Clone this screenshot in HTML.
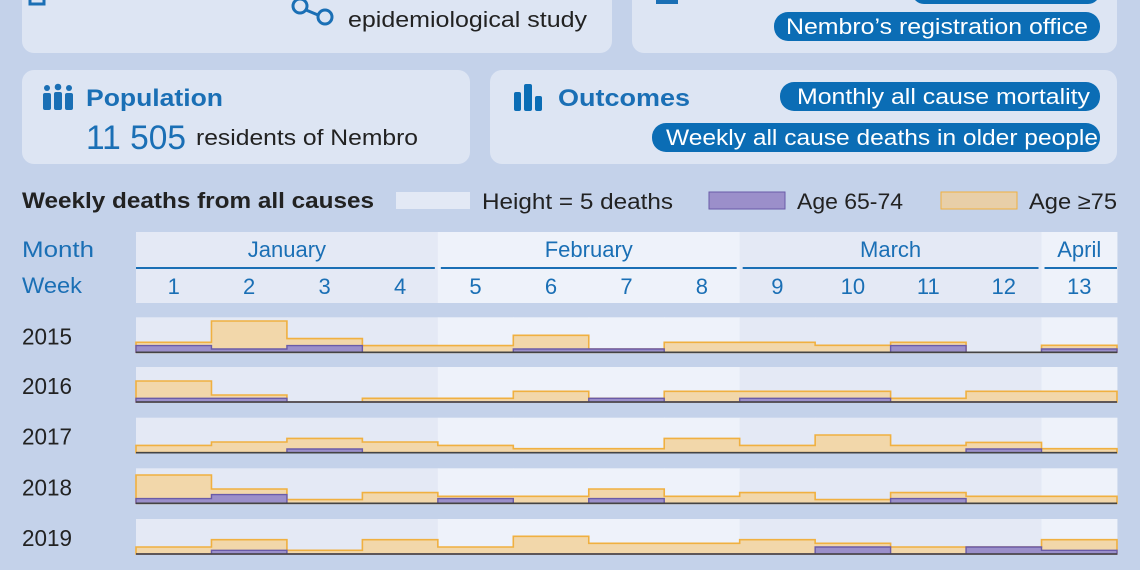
<!DOCTYPE html>
<html><head><meta charset="utf-8"><style>
html,body{margin:0;padding:0;background:#c4d2ea;}
svg{display:block;font-family:"Liberation Sans",sans-serif;}
</style></head><body>
<svg id="s" width="1140" height="570" viewBox="0 0 1140 570" xmlns="http://www.w3.org/2000/svg">
<rect width="1140" height="570" fill="#c4d2ea"/>
<rect x="22" y="-20" width="590" height="73" rx="12" fill="#dde5f3"/>
<rect x="632" y="-20" width="485" height="73" rx="12" fill="#dde5f3"/>
<rect x="30" y="-10" width="14" height="14" fill="none" stroke="#1a6fb5" stroke-width="3"/>
<g fill="none" stroke="#1a6fb5" stroke-width="3"><circle cx="300" cy="6" r="7"/><circle cx="325" cy="17" r="7"/><line x1="306" y1="10" x2="318" y2="15"/></g>
<text x="348" y="27" font-size="22" fill="#222" textLength="239" lengthAdjust="spacingAndGlyphs">epidemiological study</text>
<rect x="656" y="-10" width="22" height="14" fill="#1a6fb5"/>
<rect x="912" y="-20" width="188" height="24" rx="12" fill="#0b6db5"/>
<rect x="774" y="12" width="326" height="29" rx="14" fill="#0b6db5"/>
<text x="786" y="34" font-size="22" fill="#fff" textLength="302" lengthAdjust="spacingAndGlyphs">Nembro’s registration office</text>
<rect x="22" y="70" width="448" height="94" rx="12" fill="#dde5f3"/>
<rect x="490" y="70" width="627" height="94" rx="12" fill="#dde5f3"/>
<g fill="#1a6fb5"><circle cx="47" cy="88" r="3"/><circle cx="58" cy="87" r="3.3"/><circle cx="69" cy="88" r="3"/>
<rect x="43" y="93" width="8" height="17" rx="2"/><rect x="54" y="92" width="8" height="18" rx="2"/><rect x="65" y="93" width="8" height="17" rx="2"/></g>
<text x="86" y="106" font-size="24" font-weight="bold" fill="#1a6fb5" textLength="137" lengthAdjust="spacingAndGlyphs">Population</text>
<text x="86" y="149" font-size="34" fill="#1a6fb5" textLength="100" lengthAdjust="spacingAndGlyphs">11 505</text>
<text x="196" y="145" font-size="22" fill="#222" textLength="222" lengthAdjust="spacingAndGlyphs">residents of Nembro</text>
<g fill="#0b6db5"><rect x="514" y="92" width="7" height="19" rx="2"/><rect x="524" y="84" width="8" height="27" rx="2"/><rect x="535" y="96" width="7" height="15" rx="2"/></g>
<text x="558" y="106" font-size="24" font-weight="bold" fill="#1a6fb5" textLength="132" lengthAdjust="spacingAndGlyphs">Outcomes</text>
<rect x="780" y="82" width="320" height="29" rx="14" fill="#0b6db5"/>
<text x="797" y="104" font-size="22" fill="#fff" textLength="293" lengthAdjust="spacingAndGlyphs">Monthly all cause mortality</text>
<rect x="652" y="123" width="448" height="29" rx="14" fill="#0b6db5"/>
<text x="666" y="145" font-size="22" fill="#fff" textLength="432" lengthAdjust="spacingAndGlyphs">Weekly all cause deaths in older people</text>
<text x="22" y="208" font-size="22" font-weight="bold" fill="#222" textLength="352" lengthAdjust="spacingAndGlyphs">Weekly deaths from all causes</text>
<rect x="396" y="192" width="74" height="17" fill="#e3e9f5"/>
<text x="482" y="209" font-size="22" fill="#222" textLength="191" lengthAdjust="spacingAndGlyphs">Height = 5 deaths</text>
<rect x="709" y="192" width="76" height="17" fill="#9b8fca" stroke="#6a5ba8"/>
<text x="797" y="209" font-size="22" fill="#222" textLength="106" lengthAdjust="spacingAndGlyphs">Age 65-74</text>
<rect x="941" y="192" width="76" height="17" fill="#e8cfa8" stroke="#f0b040"/>
<text x="1029" y="209" font-size="22" fill="#222" textLength="88" lengthAdjust="spacingAndGlyphs">Age ≥75</text>
<text x="22" y="257" font-size="22" fill="#1a6fb5" textLength="72" lengthAdjust="spacingAndGlyphs">Month</text>
<text x="22" y="293" font-size="22" fill="#1a6fb5" textLength="60" lengthAdjust="spacingAndGlyphs">Week</text>
<g id="g"></g>
</svg>
<script>
const g=document.getElementById('g');let h='';
const X=i=>136+i*75.46;
const shade=i=>(i<4||(i>=8&&i<12))?'#e4e9f5':'#eef2fa';
for(let i=0;i<13;i++){h+=`<rect x="${X(i)}" y="232" width="75.9" height="71" fill="${shade(i)}"/>`;
h+=`<text x="${X(i)+37.7}" y="294" font-size="22" fill="#1a6fb5" text-anchor="middle">${i+1}</text>`;}
const months=[['January',0,4],['February',4,8],['March',8,12],['April',12,13]];
months.forEach(m=>{const a=X(m[1])+(m[1]?3:0),b=X(m[2])-(m[2]<13?3:0);
h+=`<line x1="${a}" y1="268" x2="${b}" y2="268" stroke="#1a6fb5" stroke-width="2"/>`;
h+=`<text x="${(X(m[1])+X(m[2]))/2}" y="257" font-size="22" fill="#1a6fb5" text-anchor="middle">${m[0]}</text>`;});
const rows=[
[2015,352.3,[10,31.3,13.7,6.7,6.7,17,3.3,10,10,7,10,0,7],[6.7,3.3,6.7,0,0,3.3,3.3,0,0,0,6.7,0,3.3]],
[2016,402,[21,7,0,3.7,3.7,10.7,3.7,10.7,10.7,10.7,3.7,10.7,10.7],[3.7,3.7,0,0,0,0,3.7,0,3.7,3.7,0,0,0]],
[2017,452.7,[7.3,10.7,14.3,10.7,7.3,4,4,14.3,7.3,17.7,7.3,10.3,4],[0,0,3.7,0,0,0,0,0,0,0,0,3.7,0]],
[2018,503.3,[28.3,14.3,3.7,10.7,7,7,14.3,7,10.7,3.7,10.7,7,7],[4.7,8.7,0,0,4.7,0,4.7,0,0,0,4.7,0,0]],
[2019,554,[7,14.3,3.7,14.3,7,17.7,10.7,10.7,14.3,10.7,7,7,14.3],[0,3.7,0,0,0,0,0,0,0,7,0,7,3.7]]];
function step(b,v){let p=`M${X(0)},${b}`;v.forEach((hh,i)=>{p+=`V${b-hh}H${X(i+1)}`;});return p+`V${b}Z`;}
rows.forEach(r=>{const b=r[1];
for(let i=0;i<13;i++)h+=`<rect x="${X(i)}" y="${b-35}" width="75.9" height="35" fill="${shade(i)}"/>`;
h+=`<text x="22" y="${b-8}" font-size="23" fill="#222" textLength="50" lengthAdjust="spacingAndGlyphs">${r[0]}</text>`;
h+=`<path d="${step(b,r[2])}" fill="#f2d7aa" stroke="#f0b040" stroke-width="1.6"/>`;
h+=`<path d="${step(b,r[3])}" fill="#9b8fca" stroke="#6a5ba8" stroke-width="1.4"/>`;
h+=`<line x1="136" y1="${b}" x2="1117" y2="${b}" stroke="#444" stroke-width="1.6"/>`;});
g.innerHTML=h;
</script>
</body></html>
